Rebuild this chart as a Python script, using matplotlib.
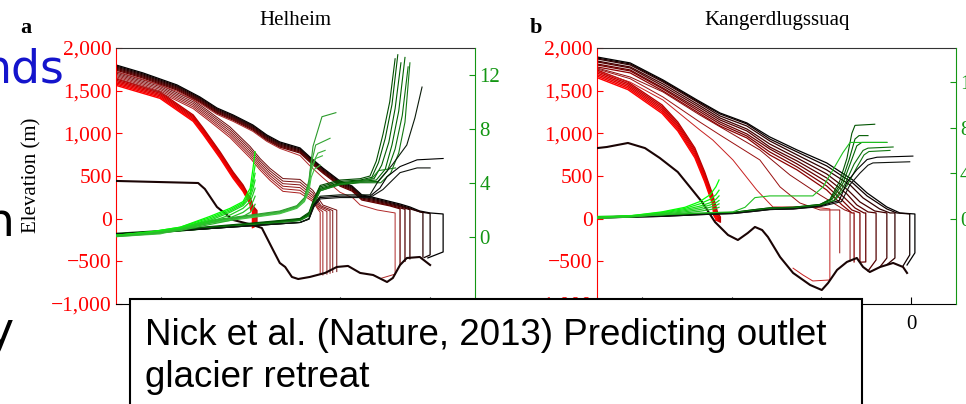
import matplotlib
matplotlib.use("Agg")
import matplotlib.pyplot as plt
from matplotlib.patches import Rectangle
from matplotlib.ticker import FuncFormatter

plt.rcParams['font.family'] = ['Liberation Serif', 'DejaVu Serif']

RED = '#ff0000'
GREEN = '#139613'

# ---------------- Helheim ----------------
# bed topography (km, m)
hel_bed_x = [-70, -51.7, -50.2, -47.5, -43.9, -39.5, -37.5, -35.0, -33.5, -32.3, -30.8, -29.4,
             -26.8, -23.4, -20.8, -18.3, -15.6, -12.7, -9.6, -8.3, -6.7, -5.2, -2.3, 0.0]
hel_bed_z = [442, 418, 348, 137, -15, -74, -109, -367, -519, -566, -683, -707,
             -683, -636, -566, -554, -636, -660, -742, -695, -543, -461, -449, -543]

# early surfaces, black -> dark red
hel_old_x = [-70, -64.0, -56.4, -51.3, -47.5, -43.9, -39.5, -36.4, -33.5, -29.0, -26.8, -23.9,
             -20.1, -17.4, -15.2, -13.0]
hel_old_z = [
    [1801, 1708, 1567, 1426, 1297, 1215, 1098, 981, 899, 829, 723, 594, 442, 383, 278, 254],
    [1789, 1696, 1555, 1414, 1285, 1203, 1086, 969, 887, 817, 711, 582, 430, 371, 266, 242],
    [1777, 1684, 1543, 1402, 1273, 1191, 1074, 957, 875, 805, 699, 570, 418, 359, 254, 230],
    [1765, 1672, 1531, 1390, 1261, 1179, 1062, 945, 863, 793, 687, 558, 406, 347, 242, 218],
    [1753, 1660, 1519, 1378, 1249, 1167, 1050, 933, 851, 781, 675, 546, 394, 335, 230, 206],
    [1741, 1648, 1507, 1366, 1237, 1155, 1038, 921, 839, 769, 663, 534, 382, 323, 218, 194],
]
hel_old_tx = [[-6.7, -4.5, -2.3, 0.0, 2.9, 2.9, -0.5],
              [-6.7, -4.5, -2.3, 0.0, 0.0, -1.3],
              [-6.7, -4.5, -1.6, -1.6],
              [-6.7, -4.5, -4.5],
              [-8.3, -5.6, -5.6],
              [-9.0, -6.7, -6.7]]
hel_old_tz = [[172, 137, 90, 67, 55, -390, -460],
              [160, 125, 80, 60, -425, -455],
              [150, 115, 70, -450],
              [140, 105, -470],
              [150, 110, -500],
              [150, 115, -540]]
hel_old_col = ['#000000', '#140000', '#280000', '#3c0000', '#500000', '#640000']

# one intermediate surface
hel_one_x = [-70, -64.0, -56.4, -51.3, -47.5, -43.9, -39.5, -36.4, -33.5, -29.0, -26.8, -23.9,
             -20.1, -17.2, -15.6, -11.8, -7.8, -7.8, -11.0]
hel_one_z = [1726, 1633, 1492, 1351, 1222, 1140, 1023, 906, 824, 740, 620, 480,
             310, 243, 161, 102, 67, -650, -700]

# middle years, dark red
hel_mid_x = [-70, -60.2, -52.8, -49.1, -44.6, -40.1, -37.9, -35.7, -32.8, -29.0]
hel_mid_z = [
    [1720, 1565, 1390, 1250, 1075, 845, 705, 590, 470, 460],
    [1706, 1548, 1370, 1228, 1050, 818, 678, 562, 440, 428],
    [1692, 1531, 1350, 1206, 1025, 791, 651, 534, 410, 396],
    [1678, 1514, 1330, 1184, 1000, 764, 624, 506, 380, 364],
    [1664, 1497, 1310, 1162, 975, 737, 597, 478, 350, 332],
    [1650, 1480, 1290, 1140, 950, 710, 570, 450, 320, 300],
]
hel_mid_tx = [[-26.1, -23.9, -20.8, -20.8],
              [-26.1, -24.3, -21.7, -21.7],
              [-26.1, -24.5, -22.3, -22.3],
              [-26.1, -24.7, -23.0, -23.0],
              [-26.1, -24.9, -23.9, -23.9],
              [-26.1, -25.0, -24.5, -24.5]]
hel_mid_tz = [[330, 160, 100, -620],
              [300, 150, 95, -630],
              [270, 140, 90, -640],
              [245, 130, 85, -650],
              [220, 120, 80, -660],
              [200, 110, 75, -640]]
hel_mid_col = ['#6e0a0a', '#7a0e0e', '#861212', '#921616', '#9e1a1a', '#aa1e1e']

# latest, most retreated surfaces, bright red
hel_new_x = [-70, -60.2, -52.8, -50.6, -46.8, -43.9, -41.7, -40.1]
hel_new_z = [
    [1637, 1485, 1215, 1063, 782, 547, 395, 243],
    [1622, 1470, 1200, 1048, 767, 532, 380, 228],
    [1607, 1455, 1185, 1033, 752, 517, 365, 213],
    [1592, 1440, 1170, 1018, 737, 502, 350, 198],
    [1577, 1425, 1155, 1003, 722, 487, 335, 183],
    [1562, 1410, 1140, 988, 707, 472, 320, 168],
]
hel_new_tx = [[-39.5, -38.6, -38.6], [-39.6, -38.8, -38.8], [-39.7, -39.0, -39.0],
              [-39.8, -39.2, -39.2], [-39.9, -39.4, -39.4], [-40.0, -39.6, -39.6]]
hel_new_tz = [[150, 95, -80], [140, 95, -85], [130, 95, -90],
              [120, 95, -95], [110, 95, -100], [100, 90, -105]]
hel_new_col = ['#b80000', '#c80000', '#d60000', '#e40000', '#f20000', '#ff0000']

# velocity (km/yr), latest years, bright green
hel_vn_x = [-70, -62.4, -55.7, -49.1, -44.6, -41.7, -40.1, -39.5, -39.0]
hel_vn = [
    [0.1, 0.35, 0.7, 1.5, 2.1, 2.6, 3.6, 5.0, 6.3],
    [0.1, 0.35, 0.7, 1.4, 2.0, 2.5, 3.3, 4.3, 5.3],
    [0.1, 0.3, 0.65, 1.3, 1.9, 2.4, 3.1, 3.9, 4.7],
    [0.05, 0.3, 0.6, 1.2, 1.8, 2.3, 2.9, 3.5, 4.2],
    [0.05, 0.25, 0.55, 1.1, 1.6, 2.1, 2.6, 3.1, 3.6],
    [0.05, 0.25, 0.5, 1.0, 1.4, 1.8, 2.2, 2.6, 3.0],
    [0.0, 0.2, 0.45, 0.9, 1.2, 1.5, 1.8, 2.1, 2.4],
]
hel_vn_col = ['#00ff00', '#0cf00c', '#14e414', '#1cd81c', '#22cc22', '#28c028', '#2eb42e']

# velocity, middle years
hel_vm_x = [-70, -60.2, -49.1, -40.1, -33.5, -29.7, -28.0, -27.0, -26.5]
hel_vm = [
    [0.05, 0.3, 1.2, 1.6, 1.9, 2.3, 2.9, 4.2, 5.6],
    [0.05, 0.3, 1.15, 1.55, 1.85, 2.25, 2.85, 4.0, 5.4],
    [0.05, 0.25, 1.1, 1.5, 1.8, 2.2, 2.8, 3.9, 5.2],
    [0.05, 0.25, 1.05, 1.45, 1.75, 2.15, 2.7, 3.7, 4.9],
    [0.0, 0.2, 1.0, 1.4, 1.7, 2.1, 2.6, 3.4, 4.4],
]
hel_vm_tx = [[-26.1, -24.1, -21.0], [-25.5, -22.3], [-25.0, -23.4], [-25.5, -24.0], [-25.8, -24.5]]
hel_vm_tv = [[6.7, 8.9, 9.2], [6.8, 7.3], [6.2, 6.4], [5.8, 6.0], [5.0, 5.3]]
hel_vm_col = ['#2a9a2a', '#30a430', '#36ae36', '#3cb83c', '#42c242']

# velocity, early years, dark green and black
hel_vo_x = [-70, -60.2, -49.1, -40.1, -33.5, -29.0, -27.0, -25.9, -24.5, -20.1, -15.6]
hel_vo = [
    [0.25, 0.45, 0.75, 1.0, 1.2, 1.35, 1.8, 2.8, 3.8, 4.2, 4.3],
    [0.2, 0.4, 0.7, 0.95, 1.15, 1.3, 1.7, 2.7, 3.7, 4.1, 4.2],
    [0.2, 0.4, 0.7, 0.95, 1.15, 1.3, 1.7, 2.6, 3.6, 4.0, 4.15],
    [0.15, 0.35, 0.65, 0.9, 1.1, 1.25, 1.6, 2.5, 3.5, 3.95, 4.1],
    [0.15, 0.35, 0.65, 0.9, 1.1, 1.25, 1.6, 2.5, 3.5, 3.9, 4.05],
    [0.1, 0.3, 0.6, 0.85, 1.05, 1.2, 1.55, 2.4, 3.4, 3.85, 4.0],
    [0.1, 0.3, 0.6, 0.85, 1.05, 1.2, 1.55, 2.4, 3.4, 3.9, 4.1],
    [0.2, 0.35, 0.6, 0.8, 0.95, 1.05, 1.3, 2.3, 2.9, 3.0, 3.0],
    [0.2, 0.35, 0.6, 0.8, 0.95, 1.05, 1.3, 2.2, 2.8, 2.9, 2.9],
    [0.2, 0.35, 0.6, 0.8, 0.95, 1.05, 1.35, 2.4, 3.0, 3.1, 3.1],
]
hel_vo_tx = [[-13.4, -12.0, -10.5, -9.0, -7.8],
             [-13.0, -11.5, -10.0, -8.5, -7.2],
             [-12.5, -10.8, -9.2, -7.8, -6.5],
             [-12.0, -10.0, -8.5, -7.0, -5.6],
             [-11.5, -9.5, -7.8, -6.2, -4.9],
             [-11.0, -8.8, -7.0, -5.6, -4.5],
             [-13.0, -11.5, -7.7],
             [-13.4, -11.2, -9.6, -6.7, -2.9, 2.9],
             [-13.4, -10.5, -6.7, -2.9, 0.0],
             [-13.4, -11.6, -8.5, -5.2, -3.4, -1.8]]
hel_vo_tv = [[4.5, 5.6, 7.6, 10.0, 13.2],
             [4.4, 5.5, 7.3, 9.8, 13.5],
             [4.3, 5.3, 7.0, 9.5, 12.9],
             [4.2, 5.0, 6.8, 9.3, 13.3],
             [4.1, 4.9, 6.5, 9.0, 12.6],
             [4.0, 4.7, 6.2, 8.5, 12.9],
             [4.3, 4.9, 5.1],
             [3.0, 3.6, 4.45, 5.2, 5.7, 5.8],
             [2.9, 3.5, 4.75, 5.1, 5.1],
             [3.1, 4.1, 5.3, 6.8, 8.8, 11.1]]
hel_vo_col = ['#004c00', '#005400', '#005c00', '#006400', '#0a6e0a', '#127812', '#1a821a',
              '#000000', '#101410', '#0a1a0a']

# ---------------- Kangerdlugssuaq ----------------
kan_bed_x = [-70, -67.8, -63.1, -59.3, -56.0, -52.0, -49.3, -46.6, -43.7, -40.8, -38.6, -36.4,
             -34.8, -33.2, -31.9, -29.2, -26.3, -22.5, -19.9, -18.5, -16.5, -14.3, -12.1, -10.7,
             -9.2, -6.9, -4.0, -1.8, -0.9]
kan_bed_z = [827, 840, 887, 827, 711, 547, 372, 196, -39, -191, -250, -168,
             -97, -133, -215, -449, -636, -777, -836, -754, -601, -507, -461, -566,
             -625, -566, -519, -566, -636]

kan_old_x = [-70, -62.6, -55.3, -47.7, -42.6, -36.6, -31.5, -25.4]
kan_old_z = [
    [1895, 1825, 1626, 1391, 1239, 1122, 958, 805],
    [1883, 1813, 1614, 1379, 1227, 1110, 934, 782],
    [1872, 1801, 1602, 1368, 1204, 1086, 911, 747],
    [1848, 1778, 1579, 1344, 1180, 1051, 875, 711],
    [1837, 1766, 1555, 1321, 1157, 1028, 840, 676],
    [1813, 1743, 1532, 1297, 1133, 993, 817, 641],
    [1801, 1731, 1520, 1274, 1110, 969, 782, 606],
    [1778, 1708, 1497, 1251, 1086, 946, 747, 571],
]
kan_old_tx = [[-18.8, -13.0, -9.8, -5.4, -2.5, 0.85, 0.85, -0.9],
              [-18.8, -13.0, -9.8, -5.4, -3.2, -0.3, -0.3, -1.8],
              [-18.8, -13.6, -10.7, -7.0, -4.7, -3.6, -3.6, -5.2],
              [-18.8, -14.1, -11.4, -8.1, -5.4, -5.4, -7.0],
              [-18.8, -14.3, -12.1, -9.6, -7.8, -7.8, -9.6],
              [-18.8, -14.8, -12.5, -10.5, -10.1, -10.1, -11.4],
              [-18.8, -15.2, -13.2, -11.4, -11.4, -12.1],
              [-18.8, -15.4, -13.2, -12.7, -12.7]]
kan_old_tz = [[653, 454, 301, 137, 67, 55, -401, -543],
              [618, 418, 266, 114, 67, 55, -425, -554],
              [571, 395, 243, 114, 67, 67, -461, -531],
              [524, 336, 196, 90, 67, -461, -570],
              [477, 289, 161, 79, 67, -484, -613],
              [430, 243, 125, 67, 67, -507, -510],
              [383, 207, 102, 67, -507, -461],
              [336, 161, 67, 67, -507]]
kan_old_col = ['#000000', '#120000', '#300000', '#420000', '#540000', '#660000', '#780000', '#8a0000']

# three intermediate surfaces
kan_one_x = [[-70, -62.6, -55.3, -47.1, -42.6, -33.7, -29.2, -24.8, -20.3, -15.9, -15.9],
             [-70, -62.6, -55.3, -47.1, -33.7, -27.0, -20.3, -14.8, -13.6, -13.6],
             [-70, -62.6, -55.3, -47.1, -44.2, -39.7, -34.4, -30.8, -21.9, -18.1, -18.1, -21.9,
              -24.1, -26.3]]
kan_one_z = [[1755, 1640, 1426, 1133, 981, 688, 372, 184, 102, 102, -400],
             [1766, 1660, 1485, 1215, 805, 512, 278, 102, 79, -500],
             [1731, 1600, 1391, 1040, 922, 688, 336, 137, 137, 114, -718, -730, -660, -580]]
kan_one_col = ['#9a1010', '#8a0c0c', '#c82020']

kan_new_x = [-70, -63.1, -55.5, -52.0, -48.2, -46.0, -44.2]
kan_new_z = [
    [1743, 1602, 1333, 1133, 829, 547, 278],
    [1725, 1584, 1313, 1112, 806, 524, 255],
    [1707, 1566, 1293, 1091, 783, 501, 232],
    [1689, 1548, 1273, 1070, 760, 478, 209],
    [1671, 1530, 1253, 1049, 737, 455, 186],
    [1653, 1512, 1233, 1028, 714, 432, 163],
]
kan_new_tx = [[-43.1, -42.5, -42.5], [-43.3, -42.7, -42.7], [-43.5, -42.9, -42.9],
              [-43.7, -43.1, -43.1], [-43.9, -43.3, -43.3], [-44.0, -43.5, -43.5]]
kan_new_tz = [[67, 20, -40], [60, 15, -35], [55, 10, -30],
              [50, 5, -25], [45, 0, -20], [40, -5, -20]]
kan_new_col = ['#b80000', '#c80000', '#d60000', '#e40000', '#f20000', '#ff0000']

kan_vn_x = [-70, -62.6, -55.5, -50.4, -47.1, -44.8, -43.5, -42.8]
kan_vn = [
    [0.1, 0.25, 0.6, 1.0, 1.5, 2.1, 2.8, 3.4],
    [0.1, 0.25, 0.55, 0.9, 1.3, 1.7, 2.1, 2.5],
    [0.1, 0.2, 0.5, 0.8, 1.1, 1.4, 1.7, 2.0],
    [0.05, 0.2, 0.45, 0.7, 0.95, 1.2, 1.4, 1.6],
    [0.05, 0.15, 0.4, 0.6, 0.8, 1.0, 1.15, 1.3],
    [0.05, 0.15, 0.35, 0.5, 0.65, 0.8, 0.9, 1.0],
]
kan_vn_col = ['#00ff00', '#0cf00c', '#14e414', '#1cd81c', '#22cc22', '#28c028']

kan_vm_x = [-70, -55.3, -47.1, -39.7, -37.0, -34.8, -31.5, -21.9, -19.6, -17.4, -15.2, -13.6,
            -11.4, -5.4]
kan_vm = [0.2, 0.35, 0.5, 0.6, 1.0, 1.85, 2.0, 2.0, 2.8, 4.3, 5.8, 6.7, 6.7, 6.7]

kan_vo_x = [-70, -55.3, -47.1, -39.7, -34.8, -31.5, -26.3, -20.3]
kan_vo = [
    [0.15, 0.3, 0.45, 0.55, 0.8, 0.95, 1.0, 1.25],
    [0.15, 0.3, 0.45, 0.55, 0.8, 0.95, 1.0, 1.25],
    [0.1, 0.25, 0.4, 0.5, 0.75, 0.9, 0.95, 1.2],
    [0.1, 0.25, 0.4, 0.5, 0.75, 0.9, 0.95, 1.2],
    [0.1, 0.25, 0.4, 0.5, 0.7, 0.85, 0.9, 1.15],
    [0.05, 0.2, 0.35, 0.45, 0.65, 0.8, 0.85, 1.1],
    [0.05, 0.2, 0.35, 0.45, 0.65, 0.8, 0.85, 1.05],
]
kan_vo_tx = [[-18.1, -15.9, -14.3, -13.2, -12.5, -8.1],
             [-17.9, -15.5, -13.8, -12.5, -11.6, -9.6],
             [-17.6, -15.2, -13.4, -12.1, -11.0, -5.4],
             [-17.2, -14.8, -12.7, -10.7, -9.6, -4.0],
             [-17.0, -14.3, -12.1, -10.5, -9.4, -4.7],
             [-16.0, -14.3, -12.1, -9.8, -7.6, 0.4],
             [-15.5, -13.6, -11.4, -9.6, -8.5, -0.3]]
kan_vo_tv = [[1.7, 3.3, 5.3, 7.5, 8.2, 8.3],
             [1.7, 3.2, 5.2, 7.0, 7.3, 7.3],
             [1.7, 3.1, 5.0, 6.4, 6.7, 6.7],
             [1.6, 3.0, 4.8, 6.0, 6.2, 6.3],
             [1.6, 2.9, 4.5, 5.6, 5.9, 6.0],
             [1.6, 3.2, 4.3, 5.2, 5.4, 5.5],
             [1.5, 3.0, 4.0, 4.7, 4.9, 5.0]]
kan_vo_col = ['#005400', '#005c00', '#006400', '#0a6e0a', '#127812', '#000000', '#101410']

# distance ticks (only the last one shows below the citation box)
dist_ticks = [-60, -40, -20, 0]
dist_labels_a = ['', '', '', '']
dist_labels_b = ['', '', '', '0']


def draw(ax, grid, rows, tx, tz, colors, lw=0.8):
    for row, ex, ez, c in zip(rows, tx, tz, colors):
        ax.plot(list(grid) + ex, list(row) + ez, color=c, lw=lw)


def setup(ax, vlim, xlabels):
    ax.set_xlim(-70, 10)
    ax.set_ylim(-1000, 2000)
    ax.set_yticks([-1000, -500, 0, 500, 1000, 1500, 2000])
    ax.yaxis.set_major_formatter(FuncFormatter(lambda v, p: f'{int(v):,}'.replace('-', '\u2212')))
    ax.set_xticks(dist_ticks)
    ax.set_xticklabels(xlabels)
    ax.tick_params(axis='y', colors=RED, direction='in', length=4, labelsize=15.5, pad=3)
    ax.tick_params(axis='x', direction='in', length=5, labelsize=15, pad=8)
    ax.spines['left'].set_color(RED)
    ax.spines['top'].set_color('#333333')
    ax.spines['right'].set_visible(False)
    for s in ax.spines.values():
        s.set_linewidth(0.8)
    ax2 = ax.twinx()
    ax2.set_ylim(*vlim)
    ax2.set_yticks([0, 4, 8, 12])
    ax2.tick_params(axis='y', colors=GREEN, direction='in', length=4, labelsize=15, pad=3)
    ax2.spines['right'].set_color(GREEN)
    ax2.spines['right'].set_linewidth(0.8)
    for s in ['left', 'top', 'bottom']:
        ax2.spines[s].set_visible(False)
    return ax2


fig = plt.figure(figsize=(9.66, 4.04), dpi=100)
axa = fig.add_axes([0.1201, 0.2475, 0.3716, 0.6337])
axb = fig.add_axes([0.6180, 0.2475, 0.3716, 0.6337])
va = setup(axa, (-5, 14), dist_labels_a)
vb = setup(axb, (-7.5, 15), dist_labels_b)

# Helheim
draw(axa, hel_new_x, hel_new_z, hel_new_tx, hel_new_tz, hel_new_col, lw=1.0)
draw(axa, hel_mid_x, hel_mid_z, hel_mid_tx, hel_mid_tz, hel_mid_col, lw=0.7)
axa.plot(hel_one_x, hel_one_z, color='#b02828', lw=0.7)
draw(axa, hel_old_x, hel_old_z, hel_old_tx, hel_old_tz, hel_old_col, lw=0.9)
axa.plot(hel_bed_x, hel_bed_z, color='#1a0404', lw=1.5, zorder=3)

draw(va, hel_vo_x, hel_vo, hel_vo_tx, hel_vo_tv, hel_vo_col, lw=0.8)
draw(va, hel_vm_x, hel_vm, hel_vm_tx, hel_vm_tv, hel_vm_col, lw=0.8)
draw(va, hel_vn_x, hel_vn, [[]] * len(hel_vn), [[]] * len(hel_vn), hel_vn_col, lw=0.9)

# Kangerdlugssuaq
draw(axb, kan_new_x, kan_new_z, kan_new_tx, kan_new_tz, kan_new_col, lw=1.0)
for x, z, c in zip(kan_one_x, kan_one_z, kan_one_col):
    axb.plot(x, z, color=c, lw=0.7)
draw(axb, kan_old_x, kan_old_z, kan_old_tx, kan_old_tz, kan_old_col, lw=0.9)
axb.plot(kan_bed_x, kan_bed_z, color='#1a0404', lw=1.5, zorder=3)

draw(vb, kan_vo_x, kan_vo, kan_vo_tx, kan_vo_tv, kan_vo_col, lw=0.8)
vb.plot(kan_vm_x, kan_vm, color='#1fc01f', lw=0.8)
draw(vb, kan_vn_x, kan_vn, [[]] * len(kan_vn), [[]] * len(kan_vn), kan_vn_col, lw=0.9)

# labels
fig.text(0.3054, 0.9381, 'Helheim', ha='center', va='baseline', fontsize=15)
fig.text(0.8043, 0.9381, 'Kangerdlugssuaq', ha='center', va='baseline', fontsize=15)
fig.text(0.0207, 0.9183, 'a', fontweight='bold', fontsize=16, va='baseline')
fig.text(0.5487, 0.9183, 'b', fontweight='bold', fontsize=16, va='baseline')
fig.text(0.0331, 0.567, 'Elevation (m)', rotation=90, ha='center', va='center', fontsize=15)

# slide text around the figure
fig.text(0.0673, 0.7946, 'nds', color='#1414cc', fontsize=33, family='DejaVu Sans',
         ha='right', va='baseline')
fig.text(0.0155, 0.4158, 'n', color='black', fontsize=34, family='DejaVu Sans',
         ha='right', va='baseline')
fig.text(0.0145, 0.146, 'y', color='black', fontsize=33, family='DejaVu Sans',
         ha='right', va='baseline')

# citation box
box = Rectangle((0.1346, -0.05), 0.7578, 0.3099, transform=fig.transFigure,
                facecolor='white', edgecolor='black', lw=1.5, zorder=10)
fig.add_artist(box)
fig.text(0.1501, 0.146, 'Nick et al. (Nature, 2013) Predicting outlet', fontsize=26.5,
         family='Liberation Sans', va='baseline', zorder=11)
fig.text(0.1501, 0.042, 'glacier retreat', fontsize=26.5,
         family='Liberation Sans', va='baseline', zorder=11)

fig.savefig('out.png', dpi=100)
